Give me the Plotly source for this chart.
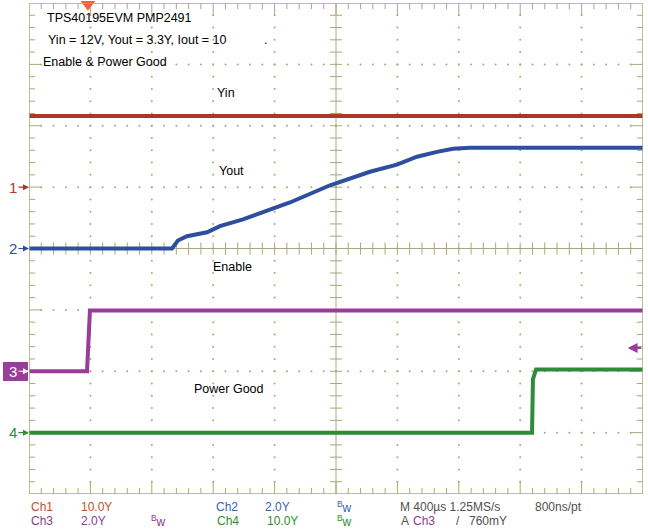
import plotly.graph_objects as go

W, H = 648, 532
# screen area in page pixels
X0, X1, Y0, Y1 = 29, 643, 3, 494

TIME_PER_DIV = 400  # us / div
N_XDIV, N_YDIV = 10, 8
T_END = TIME_PER_DIV * N_XDIV
TRIG_T = 384
TRIG_LEVEL = 0.76  # V on Ch3

GRID = "#aaa87a"
CH1_COL, CH1_TXT = "#a8392a", "#c0502a"
CH2_COL, CH2_TXT = "#2d4f9e", "#3a5fb0"
CH3_COL, CH3_TXT = "#9a3c9a", "#8e3a8e"
CH4_COL, CH4_TXT = "#2e8b3a", "#2f8f2f"
FONT = "Liberation Sans"

# channel setup: volts/div and ground marker position (div)
CH_SCALE = {1: 10.0, 2: 2.0, 3: 2.0, 4: 10.0}
CH_OFFSET = {1: 1.0, 2: 0.0, 3: -2.0, 4: -3.0}

# Ch1 Vin
ch1_t = [0, 4000]
ch1_v = [11.6, 11.6]
# Ch2 Vout
ch2_t = [0, 932, 970, 1029, 1160, 1244, 1394, 1700, 1961, 2221, 2397, 2528, 2658, 2762, 2873, 4000]
ch2_v = [0, 0, 0.26, 0.40, 0.53, 0.73, 0.95, 1.50, 2.06, 2.50, 2.73, 2.99, 3.15, 3.25, 3.28, 3.28]
# Ch3 Enable
ch3_t = [0, 378, 397, 4000]
ch3_v = [0, 0, 1.98, 1.98]
# Ch4 Power Good
ch4_t = [0, 3277, 3283, 3303, 4000]
ch4_v = [0, 0, 8.7, 10.3, 10.3]


def to_div(ch, volts):
    return [CH_OFFSET[ch] + v / CH_SCALE[ch] for v in volts]


def pxp(x, y):
    """page pixel -> paper coords"""
    return (x - X0) / (X1 - X0), (Y1 - y) / (Y1 - Y0)


fig = go.Figure()

# ---- graticule ----
dx, dy = [], []
for k in range(1, N_XDIV):
    if k == N_XDIV // 2:
        continue
    for j in range(-19, 20):
        dx.append(k * TIME_PER_DIV)
        dy.append(j * 0.2)
for k in range(-3, 4):
    if k == 0:
        continue
    for j in range(1, 50):
        dx.append(j * TIME_PER_DIV / 5)
        dy.append(k)
fig.add_trace(go.Scatter(x=dx, y=dy, mode="markers", hoverinfo="skip",
                         marker=dict(size=2, color=GRID), showlegend=False))

minor_x = TIME_PER_DIV / 5 * 0.5   # ~6 px
minor_y = 0.1
lx, ly = [], []
# centre axes
lx += [T_END / 2, T_END / 2, None, 0, T_END, None]
ly += [-4, 4, None, 0, 0, None]
for j in range(1, 50):
    x = j * TIME_PER_DIV / 5
    major = j % 5 == 0
    lx += [x, x, None, x, x, None, x, x, None]
    ly += [-minor_y, minor_y, None, 4, 4 - (0.2 if major else minor_y), None,
           -4, -4 + (0.2 if major else minor_y), None]
for j in range(-19, 20):
    y = j * 0.2
    major = j % 5 == 0
    lx += [T_END / 2 - minor_x, T_END / 2 + minor_x, None,
           0, 2 * minor_x if major else minor_x, None,
           T_END, T_END - (2 * minor_x if major else minor_x), None]
    ly += [y, y, None, y, y, None, y, y, None]
fig.add_trace(go.Scatter(x=lx, y=ly, mode="lines", hoverinfo="skip",
                         line=dict(color=GRID, width=1), showlegend=False))

fig.add_shape(type="rect", x0=0, x1=T_END, y0=-4, y1=4,
              line=dict(color=GRID, width=1.5), layer="above")

# ---- waveforms ----
for ch, t, v, col in [(1, ch1_t, ch1_v, CH1_COL), (2, ch2_t, ch2_v, CH2_COL),
                      (3, ch3_t, ch3_v, CH3_COL), (4, ch4_t, ch4_v, CH4_COL)]:
    fig.add_trace(go.Scatter(x=t, y=to_div(ch, v), mode="lines", showlegend=False,
                             line=dict(color=col, width=4), hoverinfo="skip"))

# trigger position marker
fig.add_trace(go.Scatter(x=[TRIG_T], y=[3.98], mode="markers", cliponaxis=False,
                         marker=dict(symbol="triangle-down", size=13, color="#f0643a"),
                         showlegend=False, hoverinfo="skip"))

ann = []
# ground markers
for ch, col in [(1, CH1_COL), (2, CH2_COL), (3, "white"), (4, CH4_COL)]:
    ann.append(dict(x=0, y=CH_OFFSET[ch], xref="x", yref="y", text=str(ch),
                    showarrow=True, ax=-16, ay=0, arrowhead=2, arrowsize=1,
                    arrowwidth=1.2, arrowcolor=col, standoff=0,
                    font=dict(family=FONT, size=15, color=col)))
x0p, y0p = pxp(3, 362)
x1p, y1p = pxp(28, 381)
fig.add_shape(type="rect", xref="paper", yref="paper", x0=x0p, x1=x1p, y0=y1p, y1=y0p,
              fillcolor=CH3_COL, line_width=0, layer="below")

# trigger level arrow
ann.append(dict(x=T_END - 100, y=CH_OFFSET[3] + TRIG_LEVEL / CH_SCALE[3], xref="x", yref="y",
                text="", showarrow=True, ax=15, ay=0, arrowhead=2, arrowsize=0.9,
                arrowwidth=2.2, arrowcolor=CH3_COL, standoff=0, startstandoff=0))


def txt(x, y, s, col="black", size=12.5, anchor="left"):
    xp, yp = pxp(x, y)
    ann.append(dict(x=xp, y=yp, xref="paper", yref="paper", text=s, showarrow=False,
                    xanchor=anchor, yanchor="middle",
                    font=dict(family=FONT, size=size, color=col)))


txt(45, 18, "TPS40195EVM PMP2491")
txt(46, 40, "Yin = 12V, Yout = 3.3Y, Iout = 10")
txt(262, 40, ".")
txt(41, 62, "Enable &amp; Power Good")
txt(226, 93, "Yin", anchor="center")
txt(231, 171, "Yout", anchor="center")
txt(232, 267, "Enable", anchor="center")
txt(229, 389, "Power Good", anchor="center")

BW = "<sup>B</sup>w"
r1, r2 = 507, 521
txt(29, r1, "Ch1", CH1_TXT, 12)
txt(79, r1, "10.0Y", CH1_TXT, 12)
txt(214, r1, "Ch2", CH2_TXT, 12)
txt(263, r1, "2.0Y", CH2_TXT, 12)
txt(335, r1, BW, CH2_TXT, 12)
txt(398, r1, "M 400µs 1.25MS/s", "#505050", 12)
txt(533, r1, "800ns/pt", "#505050", 12)
txt(29, r2, "Ch3", CH3_TXT, 12)
txt(79, r2, "2.0Y", CH3_TXT, 12)
txt(149, r2, BW, CH3_TXT, 12)
txt(215, r2, "Ch4", CH4_TXT, 12)
txt(265, r2, "10.0Y", CH4_TXT, 12)
txt(335, r2, BW, CH4_TXT, 12)
txt(399, r2, "A", "#505050", 12)
txt(411, r2, "Ch3", CH3_TXT, 12)
txt(454, r2, "/", "#505050", 12)
txt(467, r2, "760mY", "#505050", 12)

fig.update_layout(
    width=W, height=H,
    margin=dict(l=X0, r=W - X1, t=Y0, b=H - Y1),
    paper_bgcolor="white", plot_bgcolor="white",
    xaxis=dict(range=[0, T_END], visible=False, fixedrange=True),
    yaxis=dict(range=[-4, 4], visible=False, fixedrange=True),
    annotations=ann,
    showlegend=False,
)

# page body has a default 8px margin; drop it so the figure sits at the corner
fig.write_html("out.html", config={"displayModeBar": False},
               post_script="document.body.style.margin='0';")
